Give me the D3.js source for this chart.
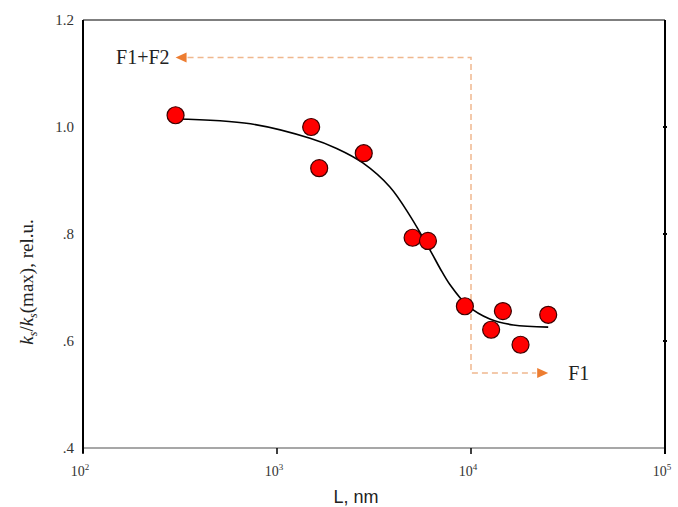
<!DOCTYPE html>
<html>
<head>
<meta charset="utf-8">
<script src="https://cdn.jsdelivr.net/npm/d3@7"></script>
<style>
  body { margin: 0; background: #fff; }
  svg { display: block; }
</style>
</head>
<body>
<script>
// measured points: L (nm) and relative rate
const pointL = [300, 1500, 1650, 2800, 5000, 6000, 9300, 12700, 14600, 18000, 25000];
const pointK = [1.022, 1.000, 0.923, 0.951, 0.793, 0.787, 0.665, 0.621, 0.656, 0.593, 0.649];

// fitted curve
const curveL = [300, 730, 1480, 2030, 2770, 3820, 4850, 6150, 6920, 7800, 9540, 12500, 16500, 25000];
const curveK = [1.015, 1.006, 0.979, 0.960, 0.933, 0.888, 0.834, 0.770, 0.736, 0.705, 0.667, 0.641, 0.630, 0.626];

const yTicks = [0.4, 0.6, 0.8, 1.0, 1.2];
const yTickLabels = [".4", ".6", ".8", "1.0", "1.2"];
const xTicks = [100, 1000, 10000, 100000];
const xTickExp = ["2", "3", "4", "5"];

// F1 / F2 boundary arrows
const boundaryL = 10000;
const f12Level = 1.13, f1Level = 0.54;
const f12TipL = 300, f1TipL = 25000;

let width = 678, height = 507;
let margin = { top: 20, bottom: 59, left: 83, right: 13 };

let svg = d3.select('body')
  .append('svg')
  .attr('width', width)
  .attr('height', height);

const xScale = d3.scaleLog()
  .domain([100, 100000])
  .range([margin.left, width - margin.right]);

const yScale = d3.scaleLinear()
  .domain([0.4, 1.2])
  .range([height - margin.bottom, margin.top]);

const serif = "'Liberation Serif', 'Times New Roman', serif";

// frame: top line
svg.append('line')
  .attr('x1', xScale(100)).attr('x2', xScale(100000))
  .attr('y1', yScale(1.2)).attr('y2', yScale(1.2))
  .attr('stroke', '#000').attr('stroke-width', 1.2);

// bottom axis (gray line, black ticks)
svg.append('line')
  .attr('x1', xScale(100)).attr('x2', xScale(100000))
  .attr('y1', yScale(0.4)).attr('y2', yScale(0.4))
  .attr('stroke', '#8a8a8a').attr('stroke-width', 1.6);

svg.selectAll('.xtick')
  .data(xTicks)
  .enter().append('line')
  .attr('x1', d => xScale(d)).attr('x2', d => xScale(d))
  .attr('y1', yScale(0.4)).attr('y2', yScale(0.4) + 6)
  .attr('stroke', '#000').attr('stroke-width', 1.5);

const xl = svg.selectAll('.xlab')
  .data(xTicks)
  .enter().append('text')
  .attr('x', d => xScale(d) - 3)
  .attr('y', yScale(0.4) + 28)
  .attr('text-anchor', 'middle')
  .style('font-family', serif)
  .style('font-size', '14px')
  .attr('fill', '#333');
xl.append('tspan').text('10');
xl.append('tspan')
  .attr('dy', -6)
  .style('font-size', '9px')
  .text((d, i) => xTickExp[i]);

// left axis
svg.append('line')
  .attr('x1', xScale(100)).attr('x2', xScale(100))
  .attr('y1', yScale(1.2)).attr('y2', yScale(0.4) + 5)
  .attr('stroke', '#000').attr('stroke-width', 2);

svg.selectAll('.ylab')
  .data(yTicks)
  .enter().append('text')
  .attr('x', margin.left - 9)
  .attr('y', d => yScale(d) + 5)
  .attr('text-anchor', 'end')
  .style('font-family', serif)
  .style('font-size', '15px')
  .attr('fill', '#333')
  .text((d, i) => yTickLabels[i]);

// right axis with small ticks
svg.append('line')
  .attr('x1', xScale(100000)).attr('x2', xScale(100000))
  .attr('y1', yScale(1.2)).attr('y2', yScale(0.4) + 6)
  .attr('stroke', '#000').attr('stroke-width', 2);

svg.selectAll('.rtick')
  .data(yTicks.filter(d => d > 0.4 && d < 1.2))
  .enter().append('line')
  .attr('x1', xScale(100000) - 2).attr('x2', xScale(100000) + 2)
  .attr('y1', d => yScale(d)).attr('y2', d => yScale(d))
  .attr('stroke', '#000').attr('stroke-width', 2);

// dashed boundary arrows
const dash = '#f0b88e', head = '#ed7d31';
const tip12 = xScale(f12TipL), tip1 = xScale(f1TipL);
const y12 = yScale(f12Level), y1 = yScale(f1Level);

svg.append('path')
  .attr('d', d3.line()([
    [tip12 + 12, y12],
    [xScale(boundaryL), y12],
    [xScale(boundaryL), y1],
    [tip1 - 12, y1]
  ]))
  .attr('fill', 'none')
  .attr('stroke', dash)
  .attr('stroke-width', 1.5)
  .attr('stroke-dasharray', '6,4');

svg.append('path')
  .attr('d', `M${tip12},${y12} L${tip12 + 11},${y12 - 5} L${tip12 + 11},${y12 + 5} Z`)
  .attr('fill', head);

svg.append('path')
  .attr('d', `M${tip1},${y1} L${tip1 - 11},${y1 - 5} L${tip1 - 11},${y1 + 5} Z`)
  .attr('fill', head);

svg.append('text')
  .attr('x', tip12 - 6)
  .attr('y', y12 + 7)
  .attr('text-anchor', 'end')
  .style('font-family', serif)
  .style('font-size', '20px')
  .attr('fill', '#222')
  .text('F1+F2');

svg.append('text')
  .attr('x', tip1 + 20)
  .attr('y', y1 + 7)
  .style('font-family', serif)
  .style('font-size', '20px')
  .attr('fill', '#222')
  .text('F1');

// fitted curve
const curveData = curveL.map((d, i) => [d, curveK[i]]);
svg.append('path')
  .datum(curveData)
  .attr('d', d3.line()
    .x(d => xScale(d[0]))
    .y(d => yScale(d[1]))
    .curve(d3.curveCatmullRom.alpha(0.5)))
  .attr('fill', 'none')
  .attr('stroke', '#000')
  .attr('stroke-width', 1.6);

// data points
svg.selectAll('circle.pt')
  .data(pointL)
  .enter().append('circle')
  .attr('class', 'pt')
  .attr('cx', d => xScale(d))
  .attr('cy', (d, i) => yScale(pointK[i]))
  .attr('r', 8.5)
  .attr('fill', '#ff0000')
  .attr('stroke', '#3a0000')
  .attr('stroke-width', 1.2);

// x-axis label
svg.append('text')
  .attr('x', 356)
  .attr('y', height - 4)
  .attr('text-anchor', 'middle')
  .style('font-family', "'Liberation Sans', Arial, sans-serif")
  .style('font-size', '18px')
  .attr('fill', '#222')
  .text('L, nm');

// y-axis label
const yl = svg.append('text')
  .attr('transform', `translate(33, 282) rotate(-90)`)
  .attr('text-anchor', 'middle')
  .style('font-family', serif)
  .style('font-size', '19px')
  .attr('fill', '#222');
yl.append('tspan').style('font-style', 'italic').text('k');
yl.append('tspan').attr('dy', 4).style('font-size', '12px').style('font-style', 'italic').text('s');
yl.append('tspan').attr('dy', -4).text('/');
yl.append('tspan').style('font-style', 'italic').text('k');
yl.append('tspan').attr('dy', 4).style('font-size', '12px').style('font-style', 'italic').text('s');
yl.append('tspan').attr('dy', -4).text('(max), rel.u.');
</script>
</body>
</html>
